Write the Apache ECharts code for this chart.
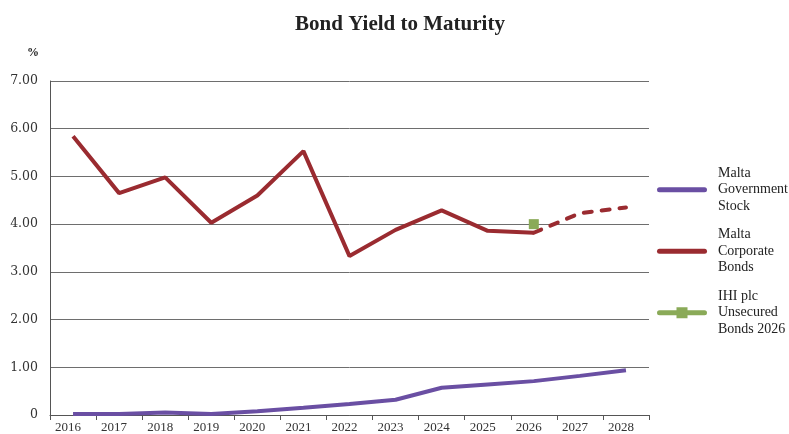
<!DOCTYPE html>
<html>
<head>
<meta charset="utf-8">
<script src="https://cdn.jsdelivr.net/npm/echarts@6/dist/echarts.min.js"></script>
<style>html,body{margin:0;padding:0;background:#fff}#c{width:789px;height:434px}</style>
</head>
<body>
<div id="c"></div>
<script>
const years = ['2016','2017','2018','2019','2020','2021','2022','2023','2024','2025','2026','2027','2028'];
const govStock = [0.02,0.02,0.05,0.02,0.08,0.15,0.23,0.32,0.57,0.64,0.71,0.82,0.94];
const corpBonds = [5.84,4.65,4.98,4.03,4.60,5.53,3.33,3.88,4.29,3.86,3.82,null,null];
const corpProjected = [null,null,null,null,null,null,null,null,null,null,3.82,4.23,4.35];
const ihiBond = [null,null,null,null,null,null,null,null,null,null,4.00,null,null];
const yTicks = [0,1,2,3,4,5,6,7];

const serif = '"Liberation Serif", "DejaVu Serif", serif';
const barIcon = 'path://M2.5,0 L47.5,0 A2.5,2.5 0 0 1 47.5,5 L2.5,5 A2.5,2.5 0 0 1 2.5,0 Z';
const ihiIcon = 'path://M2.5,3.5 L47.5,3.5 A2.5,2.5 0 0 1 47.5,8.5 L2.5,8.5 A2.5,2.5 0 0 1 2.5,3.5 Z M19.5,0.5 L30.5,0.5 L30.5,11.5 L19.5,11.5 Z';
const chart = echarts.init(document.getElementById('c'));
chart.setOption({
  animation: false,
  title: {
    text: 'Bond Yield to Maturity',
    left: 395, top: 9, textAlign: 'center',
    textStyle: {fontFamily: serif, fontSize: 21, fontWeight: 'bold', color: '#222'}
  },
  graphic: [{type: 'text', left: 27, top: 47, style: {text: '%', font: 'bold 12px ' + serif, fill: '#222'}}],
  grid: {left: 50, right: 140, top: 81, bottom: 19, containLabel: false},
  legend: {
    orient: 'vertical', left: 652, top: 160,
    itemWidth: 50, itemHeight: 12, itemGap: 12, symbolKeepAspect: true,
    data: [
      {name: 'Malta\nGovernment\nStock', icon: barIcon},
      {name: 'Malta\nCorporate\nBonds', icon: barIcon},
      {name: 'IHI plc\nUnsecured\nBonds 2026', icon: ihiIcon}
    ],
    textStyle: {fontFamily: serif, fontSize: 14, lineHeight: 16.5, color: '#222', padding: [0, 0, 0, 6]}
  },
  xAxis: {
    type: 'category', data: years, boundaryGap: true,
    axisLine: {lineStyle: {color: '#555', width: 1}},
    axisTick: {show: true, lineStyle: {color: '#555'}, length: 5},
    axisLabel: {fontFamily: serif, fontSize: 13, color: '#333', margin: 6, padding: [0, 10, 0, 0]}
  },
  yAxis: {
    type: 'value', min: yTicks[0], max: yTicks[yTicks.length - 1], interval: 1,
    axisLine: {show: true, lineStyle: {color: '#555', width: 1}},
    axisTick: {show: false},
    splitLine: {lineStyle: {color: '#6e6e6e', width: 1}},
    axisLabel: {fontFamily: '"DejaVu Serif", serif', fontSize: 12.5, color: '#333', margin: 12,
      formatter: v => v === 0 ? '0' : v.toFixed(2)}
  },
  series: [
    {name: 'Malta\nGovernment\nStock', type: 'line', data: govStock, symbol: 'none',
      lineStyle: {color: '#6a4fa3', width: 4}, itemStyle: {color: '#6a4fa3'}},
    {name: 'Malta\nCorporate\nBonds', type: 'line', data: corpBonds, symbol: 'none',
      lineStyle: {color: '#9a2b30', width: 4}, itemStyle: {color: '#9a2b30'}},
    {name: 'Corporate projected', type: 'line', data: corpProjected, symbol: 'none',
      lineStyle: {color: '#9a2b30', width: 4, type: [8, 10], cap: 'round'}, itemStyle: {color: '#9a2b30'}},
    {name: 'IHI plc\nUnsecured\nBonds 2026', type: 'line', data: ihiBond, symbol: 'rect', symbolSize: 10,
      lineStyle: {color: '#8aaa58', width: 4}, itemStyle: {color: '#8aaa58'}, z: 5}
  ]
});
</script>
</body>
</html>
